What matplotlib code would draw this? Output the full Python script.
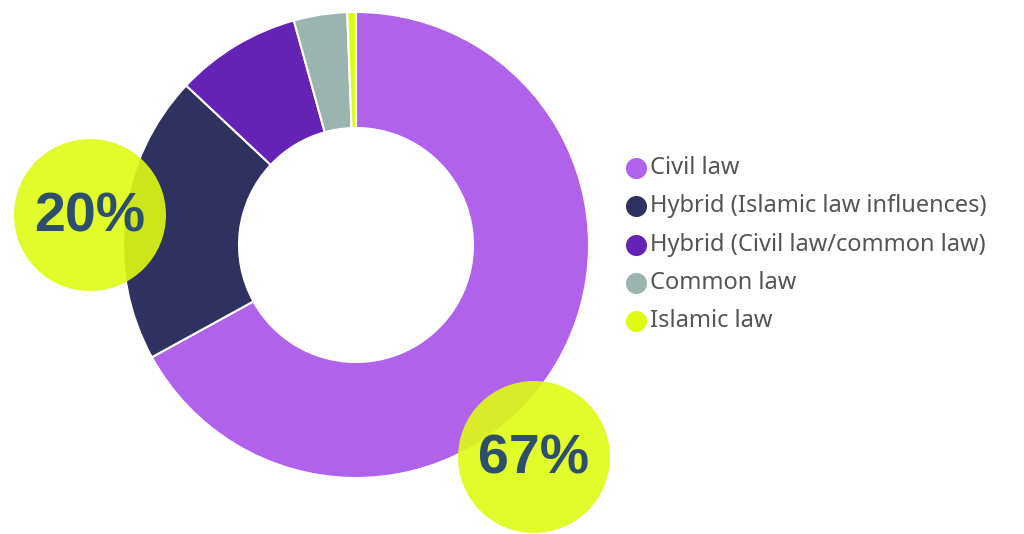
import matplotlib
matplotlib.use("Agg")
import matplotlib.pyplot as plt
from matplotlib.patches import Circle

# -------------------------------
# DATA
# -------------------------------
labels = ["Civil law", "Hybrid (Islamic law influences)", "Hybrid (Civil law/common law)",
          "Common law", "Islamic law"]
shares = [67, 20, 8.7, 3.7, 0.6]
colors = ["#B063EA", "#2F3160", "#6523B5", "#9BB4B0", "#DFFB14"]
callouts = ["20%", "67%"]

# -------------------------------
# FIGURE (pixel coords, y up)
# -------------------------------
W, H = 1024, 534
fig = plt.figure(figsize=(W / 100, H / 100), dpi=100)
ax = fig.add_axes([0, 0, 1, 1])

cx, cy = 356, H - 245
r_out, r_in = 233, 117

ax.pie(shares, colors=colors, startangle=90, counterclock=False,
       center=(cx, cy), radius=r_out, frame=True,
       wedgeprops=dict(width=r_out - r_in, edgecolor="white", linewidth=1.5))
ax.set_xlim(0, W)
ax.set_ylim(0, H)
ax.axis("off")

# callout bubbles
for txt, (x, y) in zip(callouts, [(90, H - 215), (534, H - 457)]):
    ax.add_patch(Circle((x, y), 76, color="#DFFB14", alpha=0.9, zorder=5, lw=0))
    ax.text(x, y - 2, txt, ha="center", va="center", fontsize=40, fontweight="bold",
            family="Liberation Sans", color="#2E4E6E", zorder=6)

# legend
for i, (lab, col) in enumerate(zip(labels, colors)):
    y = H - (168 + i * 38.3)
    ax.scatter([636], [y], s=230, color=col, zorder=5, lw=0)
    ax.text(650, y, lab, ha="left", va="center", fontsize=17, family="Noto Sans",
            color="#555555", zorder=6)

plt.savefig("out.png", dpi=100)
